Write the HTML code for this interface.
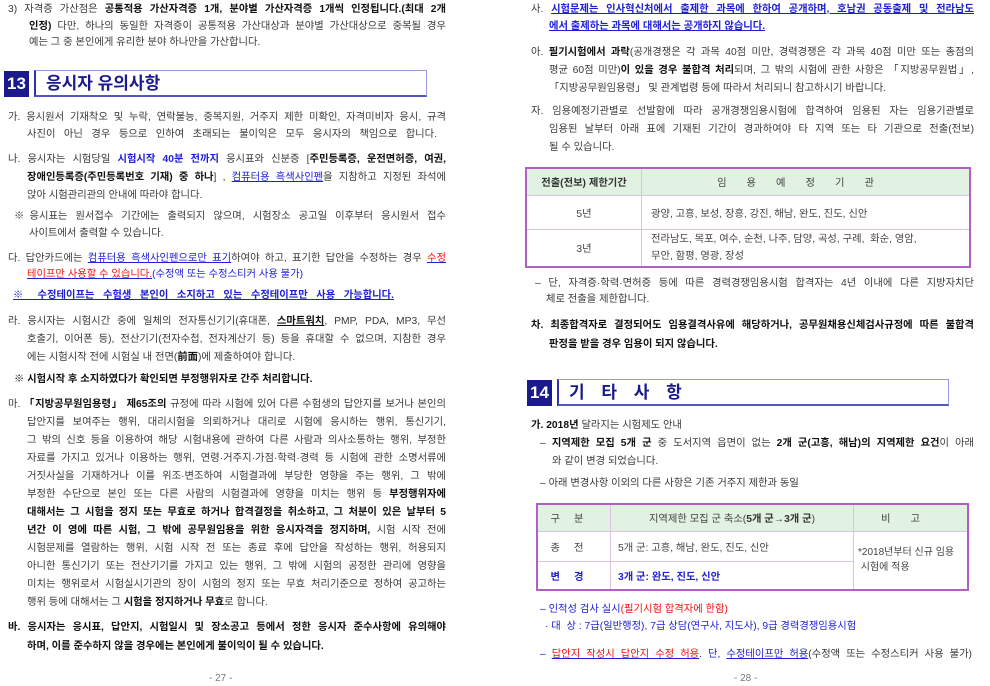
<!DOCTYPE html>
<html><head><meta charset="utf-8"><style>
body{margin:0;width:990px;height:686px;background:#fff;position:relative;overflow:hidden;font-family:"Liberation Sans","Noto Sans CJK KR","NanumGothic",sans-serif;font-size:10.3px;color:#3a3a3a}
.l{position:absolute;height:16px;line-height:16px;white-space:nowrap;text-align:justify;text-align-last:justify;overflow:hidden}
.n{text-align-last:left}
b{color:#111}
.bl{color:#1f1fd6}.bu{color:#1f1fd6;text-decoration:underline}.rd{color:#e11}.ru{color:#e11;text-decoration:underline;text-decoration-color:#1f1fd6}
.num{position:absolute;background:#1a1a8c;color:#fff;font-weight:bold;font-size:17px;text-align:center;line-height:26px}
.tb{position:absolute;border:1.5px solid #9a9ae0;border-bottom:2px solid #5555c0;border-left:2px solid #3030b0;color:#1a1a8c;font-weight:bold;font-size:17px;line-height:26px;padding-left:10px;box-sizing:border-box}
table{position:absolute;border-collapse:collapse;border:2px solid #b060c0;font-size:10.3px}
td{border:1px solid #e0c0e6;color:#444}
tr.h td{background:#e2f2e2;text-align:center}
.pn{position:absolute;top:673px;font-size:10px;color:#777}
</style></head><body>

<div class="l" style="left:8px;top:2px;width:438px">3) 자격증 가산점은 <b>공통적용 가산자격증 1개, 분야별 가산자격증 1개씩 인정됩니다.(최대 2개</b></div>
<div class="l" style="left:29px;top:19px;width:417px"><b>인정)</b> 다만, 하나의 동일한 자격증이 공통적용 가산대상과 분야별 가산대상으로 중복될 경우</div>
<div class="l n" style="left:29px;top:35px">예는 그 중 본인에게 유리한 분야 하나만을 가산합니다.</div>

<div class="num" style="left:4px;top:71px;width:25px;height:26px">13</div>
<div class="tb" style="left:34px;top:70px;width:393px;height:27px">응시자 유의사항</div>

<div class="l" style="left:8px;top:110px;width:438px">가. 응시원서 기재착오 및 누락, 연락불능, 중복지원, 거주지 제한 미확인, 자격미비자 응시, 규격</div>
<div class="l" style="left:27px;top:127px;width:410px">사진이 아닌 경우 등으로 인하여 초래되는 불이익은 모두 응시자의 책임으로 합니다.</div>
<div class="l" style="left:8px;top:152px;width:438px">나. 응시자는 시험당일 <b class="bl">시험시작 40분 전까지</b> 응시표와 신분증 [<b>주민등록증, 운전면허증, 여권,</b></div>
<div class="l" style="left:27px;top:170px;width:419px"><b>장애인등록증(주민등록번호 기재) 중 하나</b>] , <span class="bu">컴퓨터용 흑색사인펜</span>을 지참하고 지정된 좌석에</div>
<div class="l n" style="left:27px;top:188px">앉아 시험관리관의 안내에 따라야 합니다.</div>
<div class="l" style="left:14px;top:209px;width:432px">※응시표는 원서접수 기간에는 출력되지 않으며, 시험장소 공고일 이후부터 응시원서 접수</div>
<div class="l n" style="left:29px;top:226px">사이트에서 출력할 수 있습니다.</div>
<div class="l" style="left:8px;top:251px;width:438px">다. 답안카드에는 <span class="bu">컴퓨터용 흑색사인펜으로만 표기</span>하여야 하고, 표기한 답안을 수정하는 경우 <span class="ru">수정</span></div>
<div class="l n" style="left:27px;top:267px"><span class="ru">테이프만 사용할 수 있습니다.</span><span class="bl">(수정액 또는 수정스티커 사용 불가)</span></div>
<div class="l" style="left:13px;top:288px;width:381px"><span class="bu" style="font-weight:bold">※ 수정테이프는 수험생 본인이 소지하고 있는 수정테이프만 사용 가능합니다.</span></div>
<div class="l" style="left:8px;top:314px;width:438px">라. 응시자는 시험시간 중에 일체의 전자통신기기(휴대폰, <b style="text-decoration:underline">스마트워치</b>, PMP, PDA, MP3, 무선</div>
<div class="l" style="left:27px;top:332px;width:419px">호출기, 이어폰 등), 전산기기(전자수첩, 전자계산기 등) 등을 휴대할 수 없으며, 지참한 경우</div>
<div class="l n" style="left:27px;top:350px">에는 시험시작 전에 시험실 내 전면(<b>前面</b>)에 제출하여야 합니다.</div>
<div class="l n" style="left:14px;top:372px"><b>※ 시험시작 후 소지하였다가 확인되면 부정행위자로 간주 처리합니다.</b></div>
<div class="l" style="left:8px;top:397px;width:438px">마. <b>「지방공무원임용령」 제65조의</b> 규정에 따라 시험에 있어 다른 수험생의 답안지를 보거나 본인의</div>
<div class="l" style="left:27px;top:415px;width:419px">답안지를 보여주는 행위, 대리시험을 의뢰하거나 대리로 시험에 응시하는 행위, 통신기기,</div>
<div class="l" style="left:27px;top:433px;width:419px">그 밖의 신호 등을 이용하여 해당 시험내용에 관하여 다른 사람과 의사소통하는 행위, 부정한</div>
<div class="l" style="left:27px;top:451px;width:419px">자료를 가지고 있거나 이용하는 행위, 연령·거주지·가점·학력·경력 등 시험에 관한 소명서류에</div>
<div class="l" style="left:27px;top:469px;width:419px">거짓사실을 기재하거나 이를 위조·변조하여 시험결과에 부당한 영향을 주는 행위, 그 밖에</div>
<div class="l" style="left:27px;top:487px;width:419px">부정한 수단으로 본인 또는 다른 사람의 시험결과에 영향을 미치는 행위 등 <b>부정행위자에</b></div>
<div class="l" style="left:27px;top:505px;width:419px"><b>대해서는 그 시험을 정지 또는 무효로 하거나 합격결정을 취소하고, 그 처분이 있은 날부터 5</b></div>
<div class="l" style="left:27px;top:523px;width:419px"><b>년간 이 영에 따른 시험, 그 밖에 공무원임용을 위한 응시자격을 정지하며,</b> 시험 시작 전에</div>
<div class="l" style="left:27px;top:541px;width:419px">시험문제를 열람하는 행위, 시험 시작 전 또는 종료 후에 답안을 작성하는 행위, 허용되지</div>
<div class="l" style="left:27px;top:559px;width:419px">아니한 통신기기 또는 전산기기를 가지고 있는 행위, 그 밖에 시험의 공정한 관리에 영향을</div>
<div class="l" style="left:27px;top:577px;width:419px">미치는 행위로서 시험실시기관의 장이 시험의 정지 또는 무효 처리기준으로 정하여 공고하는</div>
<div class="l n" style="left:27px;top:595px">행위 등에 대해서는 그 <b>시험을 정지하거나 무효</b>로 합니다.</div>
<div class="l" style="left:8px;top:620px;width:438px"><b>바. 응시자는 응시표, 답안지, 시험일시 및 장소공고 등에서 정한 응시자 준수사항에 유의해야</b></div>
<div class="l n" style="left:27px;top:639px"><b>하며, 이를 준수하지 않을 경우에는 본인에게 불이익이 될 수 있습니다.</b></div>
<div class="pn" style="left:209px">- 27 -</div>

<!-- right page -->
<div class="l" style="left:531px;top:2px;width:443px">사. <span class="bu" style="font-weight:bold">시험문제는 인사혁신처에서 출제한 과목에 한하여 공개하며, 호남권 공동출제 및 전라남도</span></div>
<div class="l n" style="left:549px;top:19px"><span class="bu" style="font-weight:bold">에서 출제하는 과목에 대해서는 공개하지 않습니다.</span></div>
<div class="l" style="left:531px;top:45px;width:443px">아. <b>필기시험에서 과락</b>(공개경쟁은 각 과목 40점 미만, 경력경쟁은 각 과목 40점 미만 또는 총점의</div>
<div class="l" style="left:549px;top:63px;width:425px">평균 60점 미만)<b>이 있을 경우 불합격 처리</b>되며, 그 밖의 시험에 관한 사항은 「지방공무원법」,</div>
<div class="l n" style="left:549px;top:81px">「지방공무원임용령」 및 관계법령 등에 따라서 처리되니 참고하시기 바랍니다.</div>
<div class="l" style="left:531px;top:104px;width:443px">자. 임용예정기관별로 선발함에 따라 공개경쟁임용시험에 합격하여 임용된 자는 임용기관별로</div>
<div class="l" style="left:549px;top:122px;width:425px">임용된 날부터 아래 표에 기재된 기간이 경과하여야 타 지역 또는 타 기관으로 전출(전보)</div>
<div class="l n" style="left:549px;top:140px">될 수 있습니다.</div>

<table style="left:525px;top:167px;width:446px;height:97px">
<tr class="h" style="height:27px"><td style="width:112px"><b style="color:#333">전출(전보) 제한기간</b></td><td style="letter-spacing:20px">임용예정기관</td></tr>
<tr style="height:34px"><td style="text-align:center">5년</td><td style="padding-left:9px">광양, 고흥, 보성, 장흥, 강진, 해남, 완도, 진도, 신안</td></tr>
<tr><td style="text-align:center">3년</td><td style="padding-left:9px;line-height:17px">전라남도, 목포, 여수, 순천, 나주, 담양, 곡성, 구례, &nbsp;화순, 영암,<br>무안, 함평, 영광, 장성</td></tr>
</table>

<div class="l" style="left:535px;top:276px;width:439px">– 단, 자격증·학력·면허증 등에 따른 경력경쟁임용시험 합격자는 4년 이내에 다른 지방자치단</div>
<div class="l n" style="left:546px;top:292px">체로 전출을 제한합니다.</div>
<div class="l" style="left:531px;top:318px;width:443px"><b>차. 최종합격자로 결정되어도 임용결격사유에 해당하거나, 공무원채용신체검사규정에 따른 불합격</b></div>
<div class="l n" style="left:549px;top:337px"><b>판정을 받을 경우 임용이 되지 않습니다.</b></div>

<div class="num" style="left:527px;top:380px;width:25px;height:26px">14</div>
<div class="tb" style="left:557px;top:379px;width:392px;height:27px;letter-spacing:6px">기 타 사 항</div>

<div class="l n" style="left:531px;top:418px"><b>가. 2018년</b> 달라지는 시험제도 안내</div>
<div class="l" style="left:540px;top:436px;width:434px">– <b>지역제한 모집 5개 군</b> 중 도서지역 읍면이 없는 <b>2개 군(고흥, 해남)의 지역제한 요건</b>이 아래</div>
<div class="l n" style="left:552px;top:454px">와 같이 변경 되었습니다.</div>
<div class="l n" style="left:540px;top:476px">– 아래 변경사항 이외의 다른 사항은 기존 거주지 제한과 동일</div>

<table style="left:536px;top:503px;width:433px;height:88px">
<tr class="h" style="height:27px"><td style="width:70px;letter-spacing:14px">구분</td><td style="width:240px">지역제한 모집 군 축소(<b style="color:#333">5개 군→3개 군</b>)</td><td style="letter-spacing:20px">비고</td></tr>
<tr style="height:30px"><td style="text-align:center;letter-spacing:14px">종전</td><td style="padding-left:7px">5개 군: 고흥, 해남, 완도, 진도, 신안</td><td rowspan="2" style="padding-left:4px;line-height:15px;font-size:10px">*2018년부터 신규 임용<br>&nbsp;시험에 적용</td></tr>
<tr><td style="text-align:center;letter-spacing:14px"><b class="bl">변경</b></td><td style="padding-left:7px"><b class="bl">3개 군: 완도, 진도, 신안</b></td></tr>
</table>

<div class="l n" style="left:540px;top:602px"><span class="bl">– 인적성 검사 실시</span><span class="rd">(필기시험 합격자에 한함)</span></div>
<div class="l n" style="left:545px;top:619px;color:#1f1fd6">· 대 &nbsp;상 : 7급(일반행정), 7급 상담(연구사, 지도사), 9급 경력경쟁임용시험</div>
<div class="l" style="left:540px;top:647px;width:432px"><span class="bl">– </span><span class="ru">답안지 작성시 답안지 수정 허용</span><span class="bl">. 단, <u>수정테이프만 허용</u></span>(수정액 또는 수정스티커 사용 불가)</div>
<div class="pn" style="left:734px">- 28 -</div>
</body></html>
